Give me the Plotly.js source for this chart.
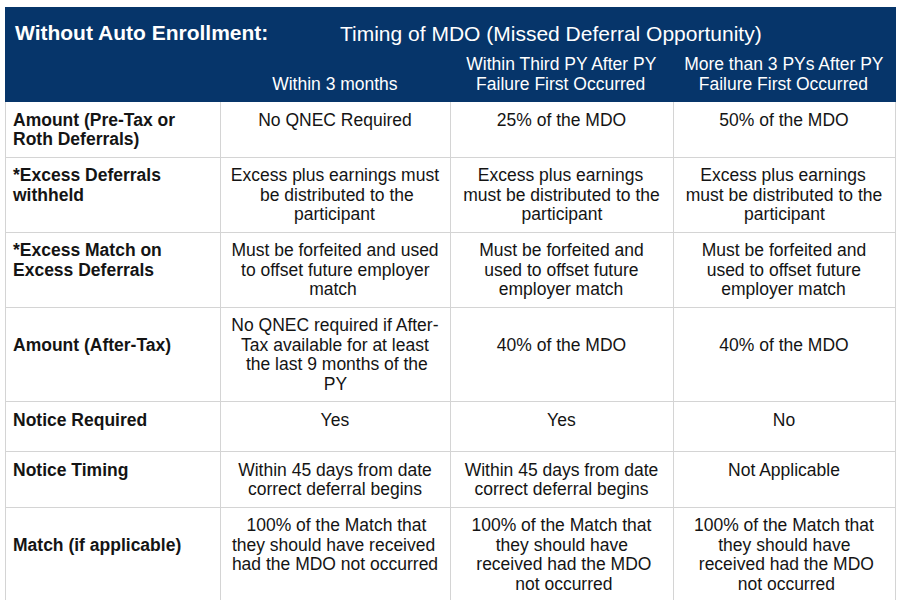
<!DOCTYPE html>
<html>
<head>
<meta charset="utf-8">
<script src="https://cdn.plot.ly/plotly-3.0.1.min.js"></script>
<style>html,body{margin:0;padding:0;background:#fff;}#chart{width:900px;height:600px;}</style>
</head>
<body>
<div id="chart"></div>
<script>
// ---- data ----
var titleLeft = "Without Auto Enrollment:";
var titleRight = "Timing of MDO (Missed Deferral Opportunity)";
var columnHeaders = [
  "",
  "Within 3 months",
  "Within Third PY After PY<br>Failure First Occurred",
  "More than 3 PYs After PY<br>Failure First Occurred"
];
var rowLabels = [
  "Amount (Pre-Tax or<br>Roth Deferrals)",
  "*Excess Deferrals<br>withheld",
  "*Excess Match on<br>Excess Deferrals",
  "Amount (After-Tax)",
  "Notice Required",
  "Notice Timing",
  "Match (if applicable)"
];
var within3Months = [
  "No QNEC Required",
  "Excess plus earnings must<br>be distributed to the<br>participant",
  "Must be forfeited and used<br>to offset future employer<br>match",
  "No QNEC required if After-<br>Tax available for at least<br>the last 9 months of the<br>PY",
  "Yes",
  "Within 45 days from date<br>correct deferral begins",
  "100% of the Match that<br>they should have received<br>had the MDO not occurred"
];
var withinThirdPY = [
  "25% of the MDO",
  "Excess plus earnings<br>must be distributed to the<br>participant",
  "Must be forfeited and<br>used to offset future<br>employer match",
  "40% of the MDO",
  "Yes",
  "Within 45 days from date<br>correct deferral begins",
  "100% of the Match that<br>they should have<br>received had the MDO<br>not occurred"
];
var moreThan3PY = [
  "50% of the MDO",
  "Excess plus earnings<br>must be distributed to the<br>participant",
  "Must be forfeited and<br>used to offset future<br>employer match",
  "40% of the MDO",
  "No",
  "Not Applicable",
  "100% of the Match that<br>they should have<br>received had the MDO<br>not occurred"
];

// ---- text helpers (Plotly tables centre a multi-line block, not each line) ----
var FONT = "Arial, 'Liberation Sans', sans-serif";
var NB = "\u00a0";
var GLYPH = 17.5;        // visible glyph size
var LINE = 19.5;         // wanted line pitch (Plotly uses 1.3em)
var BASE = LINE / 1.3;   // font size given to the table so lines are LINE apart
var ctx = document.createElement("canvas").getContext("2d");
function tw(s, size, bold) {
  ctx.font = (bold ? "bold " : "") + size + "px Arial, 'Liberation Sans', sans-serif";
  return ctx.measureText(s).width;
}
function centerLines(lines, size, bold) {
  var ws = lines.map(function(l){ return tw(l, size, bold); });
  var maxW = Math.max.apply(null, ws);
  var sp = tw(NB, size, bold);
  return lines.map(function(l, i){
    var n = Math.round((maxW - ws[i]) / 2 / sp);
    return new Array(n + 1).join(NB) + l;
  });
}
function padTop(lines, k) {
  var out = [];
  for (var i = 0; i < k; i++) out.push(NB);
  return out.concat(lines);
}
function toHTML(lines, bold) {
  var s = lines.map(function(l){
    return '<span style="font-size:' + GLYPH + 'px">' + l + '</span>';
  }).join("<br>");
  if (lines.length === 1) s += "<br>";
  return bold ? "<b>" + s + "</b>" : s;
}

var rawCols = [rowLabels, within3Months, withinThirdPY, moreThan3PY];
var nRows = rowLabels.length;
var bodyCols = rawCols.map(function(){ return []; });
for (var r = 0; r < nRows; r++) {
  var split = rawCols.map(function(col){ return col[r].split("<br>"); });
  var maxN = Math.max.apply(null, split.map(function(s){ return s.length; }));
  split.forEach(function(lines, c) {
    var pad = Math.floor((maxN - lines.length) / 2);
    var ls = c === 0 ? lines : centerLines(lines, GLYPH, false);
    bodyCols[c].push(toHTML(padTop(ls, pad), c === 0));
  });
}
var headerVals = columnHeaders.map(function(h, c){
  if (c === 0) return "";
  var lines = centerLines(h.split("<br>"), GLYPH, false);
  return toHTML(padTop(lines, 4 - lines.length), false);
});

var trace = {
  type: "table",
  domain: {x: [5/900, 895/900], y: [0, 1 - 7/600]},
  columnwidth: [215, 230, 223, 222],
  header: {
    values: headerVals,
    align: ["left", "center", "center", "center"],
    fill: {color: "#06356a"},
    line: {color: "#06356a", width: 1},
    font: {family: FONT, size: BASE, color: "#ffffff"},
    height: 90
  },
  cells: {
    values: bodyCols,
    align: ["left", "center", "center", "center"],
    fill: {color: "#ffffff"},
    line: {color: "#d4d4d4", width: 1},
    font: {family: FONT, size: BASE, color: "#141414"},
    height: 50
  }
};

var layout = {
  width: 900, height: 600,
  margin: {l: 0, r: 0, t: 0, b: 0},
  paper_bgcolor: "#ffffff",
  title: {
    text: "<b>" + titleLeft + "</b>",
    font: {family: FONT, size: 21, color: "#ffffff"},
    x: 15/900, xanchor: "left", xref: "paper",
    y: 1 - 33/600, yanchor: "middle", yref: "container"
  },
  annotations: [{
    text: titleRight,
    font: {family: FONT, size: 21, color: "#ffffff"},
    xref: "paper", yref: "paper",
    x: 338/900, xanchor: "left",
    y: 1 - 33/600, yanchor: "middle",
    showarrow: false
  }]
};

Plotly.newPlot("chart", [trace], layout, {displayModeBar: false, staticPlot: true});
</script>
</body>
</html>
